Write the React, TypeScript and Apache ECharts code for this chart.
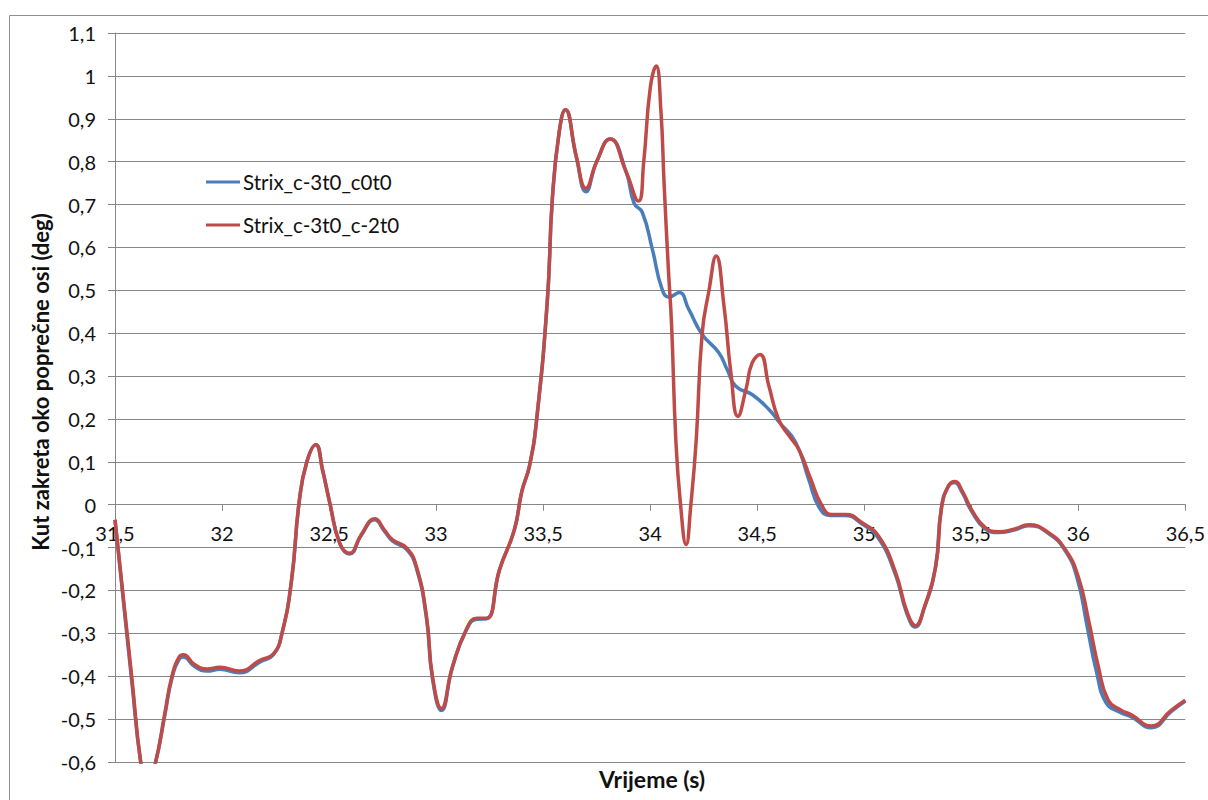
import React, { useEffect, useRef } from "react";
import * as echarts from "echarts";

const seriesNames = ["Strix_c-3t0_c0t0", "Strix_c-3t0_c-2t0"];
const xTitle = "Vrijeme (s)";
const yTitle = "Kut zakreta oko poprečne osi (deg)";

const timeRed = [
  31.5, 31.53, 31.58, 31.62, 31.65, 31.69, 31.733, 31.766, 31.8, 31.82, 31.87, 31.93, 31.99, 32.08, 32.18,
  32.24, 32.28, 32.325, 32.36, 32.395, 32.438, 32.47, 32.503, 32.55, 32.596, 32.65, 32.713, 32.76, 32.797,
  32.862, 32.908, 32.955, 32.983, 33.025, 33.076, 33.14, 33.19, 33.235, 33.296, 33.366, 33.4, 33.436, 33.47,
  33.52, 33.543, 33.575, 33.604, 33.655, 33.7, 33.75, 33.813, 33.888, 33.945, 33.97, 34.0, 34.028, 34.05,
  34.065, 34.085, 34.1, 34.12, 34.142, 34.168, 34.19, 34.215, 34.243, 34.275, 34.308, 34.345, 34.377, 34.41,
  34.448, 34.476, 34.513, 34.555, 34.6, 34.65, 34.695, 34.75, 34.8, 34.849, 34.914, 34.99, 35.068, 35.147,
  35.2, 35.24, 35.28, 35.334, 35.362, 35.395, 35.423, 35.46, 35.502, 35.567, 35.628, 35.7, 35.768, 35.861,
  35.94, 36.0, 36.048, 36.094, 36.14, 36.2, 36.248, 36.341, 36.435, 36.5,
];
const valRed = [
  -0.035, -0.175, -0.41, -0.6, -0.66, -0.6, -0.486, -0.4, -0.355, -0.35, -0.372, -0.383, -0.379, -0.388, -0.362,
  -0.348, -0.3, -0.175, 0.005, 0.098, 0.14, 0.08, 0.005, -0.09, -0.113, -0.07, -0.033, -0.06, -0.082,
  -0.101, -0.144, -0.26, -0.4, -0.475, -0.378, -0.292, -0.265, -0.265, -0.152, -0.058, 0.03, 0.09, 0.2,
  0.479, 0.713, 0.869, 0.921, 0.813, 0.738, 0.8, 0.853, 0.776, 0.708, 0.8, 0.97, 1.023, 0.92,
  0.75, 0.55, 0.42, 0.15, 0.0, -0.093, 0.0, 0.15, 0.4, 0.5, 0.58, 0.463, 0.308, 0.206,
  0.27, 0.33, 0.35, 0.276, 0.199, 0.16, 0.128, 0.06, 0.0, -0.023, -0.023, -0.042, -0.074, -0.159,
  -0.25, -0.282, -0.24, -0.144, -0.005, 0.045, 0.054, 0.03, -0.012, -0.054, -0.063, -0.057, -0.047, -0.065,
  -0.105, -0.168, -0.269, -0.378, -0.456, -0.479, -0.49, -0.516, -0.479, -0.456,
];

const timeBlue = [
  31.5, 31.53, 31.58, 31.62, 31.65, 31.69, 31.733, 31.766, 31.8, 31.82, 31.87, 31.93, 31.99, 32.08, 32.18,
  32.24, 32.28, 32.325, 32.36, 32.395, 32.438, 32.47, 32.503, 32.55, 32.596, 32.65, 32.713, 32.76, 32.797,
  32.862, 32.908, 32.955, 32.983, 33.025, 33.076, 33.14, 33.19, 33.235, 33.296, 33.366, 33.4, 33.436, 33.47,
  33.52, 33.543, 33.575, 33.604, 33.655, 33.7, 33.75, 33.813, 33.888, 33.925, 33.963, 34.01, 34.056, 34.089,
  34.135, 34.18, 34.243, 34.32, 34.36, 34.4, 34.476, 34.555, 34.6, 34.68, 34.74, 34.788, 34.84, 34.91,
  34.99, 35.065, 35.145, 35.2, 35.238, 35.278, 35.332, 35.36, 35.393, 35.421, 35.458, 35.5, 35.565, 35.628,
  35.7, 35.768, 35.861, 35.94, 35.995, 36.04, 36.085, 36.13, 36.19, 36.248, 36.341, 36.435, 36.5,
];
const valBlue = [
  -0.035, -0.18, -0.42, -0.6, -0.66, -0.6, -0.49, -0.405, -0.36, -0.355, -0.377, -0.388, -0.384, -0.392, -0.366,
  -0.35, -0.3, -0.175, 0.005, 0.098, 0.14, 0.08, 0.005, -0.09, -0.115, -0.072, -0.035, -0.063, -0.085,
  -0.104, -0.148, -0.265, -0.405, -0.48, -0.38, -0.294, -0.267, -0.266, -0.152, -0.058, 0.03, 0.09, 0.2,
  0.479, 0.713, 0.869, 0.921, 0.81, 0.73, 0.8, 0.853, 0.776, 0.703, 0.682, 0.596, 0.502, 0.484,
  0.495, 0.456, 0.397, 0.355, 0.315, 0.276, 0.257, 0.222, 0.194, 0.145, 0.06, -0.005, -0.025, -0.025,
  -0.045, -0.077, -0.162, -0.255, -0.285, -0.245, -0.148, -0.008, 0.043, 0.052, 0.028, -0.014, -0.056, -0.065,
  -0.059, -0.049, -0.067, -0.108, -0.172, -0.28, -0.39, -0.462, -0.483, -0.495, -0.52, -0.482, -0.458,
];

const fmt = (v: number) => String(Math.round(v * 10) / 10).replace(".", ",");

export default function App() {
  const ref = useRef<HTMLDivElement>(null);
  useEffect(() => {
    if (!ref.current) return;
    const chart = echarts.init(ref.current, undefined, { renderer: "svg" });
    const font = "Lato";
    const gridColor = "#878787";
    const textColor = "#111";
    chart.setOption({
      animation: false,
      backgroundColor: "#ffffff",
      textStyle: { fontFamily: font },
      grid: { left: 115, right: 18, top: 33, bottom: 38, containLabel: false },
      legend: {
        data: seriesNames,
        orient: "vertical",
        left: 201,
        top: 165,
        icon: "rect",
        itemWidth: 34,
        itemHeight: 3,
        itemGap: 19,
        textStyle: { fontSize: 20.5, lineHeight: 24, color: textColor, fontFamily: font, padding: [0, 0, 0, -2] },
      },
      xAxis: {
        type: "value",
        min: 31.5,
        max: 36.5,
        interval: 0.5,
        axisLine: { show: true, onZero: false, lineStyle: { color: gridColor, width: 1 } },
        axisTick: { show: true, inside: false, length: 6, lineStyle: { color: gridColor } },
        axisLabel: { formatter: fmt, fontSize: 20, color: textColor, margin: 18, fontFamily: font },
        splitLine: { show: false },
      },
      yAxis: {
        type: "value",
        min: -0.6,
        max: 1.1,
        interval: 0.1,
        axisLine: { show: true, lineStyle: { color: gridColor, width: 1 } },
        axisTick: { show: true, inside: false, length: 7, lineStyle: { color: gridColor } },
        axisLabel: { formatter: fmt, fontSize: 20, color: textColor, margin: 19, fontFamily: font },
        splitLine: { show: true, lineStyle: { color: gridColor, width: 1 } },
      },
      graphic: [
        {
          type: "rect",
          shape: { x: 9.5, y: 15.5, width: 1300, height: 900 },
          style: { fill: "none", stroke: "#8e8e8e", lineWidth: 1 },
          z: -1,
          silent: true,
        },
        {
          type: "text",
          x: 652,
          y: 779,
          style: {
            text: xTitle,
            font: `bold 23px ${font}`,
            fill: textColor,
            textAlign: "center",
            textVerticalAlign: "middle",
          },
        },
        {
          type: "text",
          x: 40,
          y: 382,
          rotation: Math.PI / 2,
          style: {
            text: yTitle,
            font: `bold 22px ${font}`,
            fill: textColor,
            textAlign: "center",
            textVerticalAlign: "middle",
          },
        },
      ],
      series: [
        {
          name: seriesNames[0],
          type: "line",
          data: timeBlue.map((t, i) => [t, valBlue[i]]),
          showSymbol: false,
          symbol: "none",
          smooth: 0.5,
          clip: true,
          lineStyle: { color: "#4A7EBB", width: 3.5 },
          itemStyle: { color: "#4A7EBB" },
          z: 2,
        },
        {
          name: seriesNames[1],
          type: "line",
          data: timeRed.map((t, i) => [t, valRed[i]]),
          showSymbol: false,
          symbol: "none",
          smooth: 0.5,
          clip: true,
          lineStyle: { color: "#BE4B48", width: 3.5 },
          itemStyle: { color: "#BE4B48" },
          z: 3,
        },
      ],
    });
    // place the x axis line on y = 0 using the library's own scale
    const zeroY = chart.convertToPixel({ yAxisIndex: 0 }, 0) as number;
    const bottomY = chart.convertToPixel({ yAxisIndex: 0 }, -0.6) as number;
    chart.setOption({ xAxis: { offset: -(bottomY - zeroY) } });
    return () => chart.dispose();
  }, []);
  return (
    <div
      ref={ref}
      style={{ position: "fixed", left: 0, top: 0, width: 1208, height: 800, background: "#fff" }}
    />
  );
}
